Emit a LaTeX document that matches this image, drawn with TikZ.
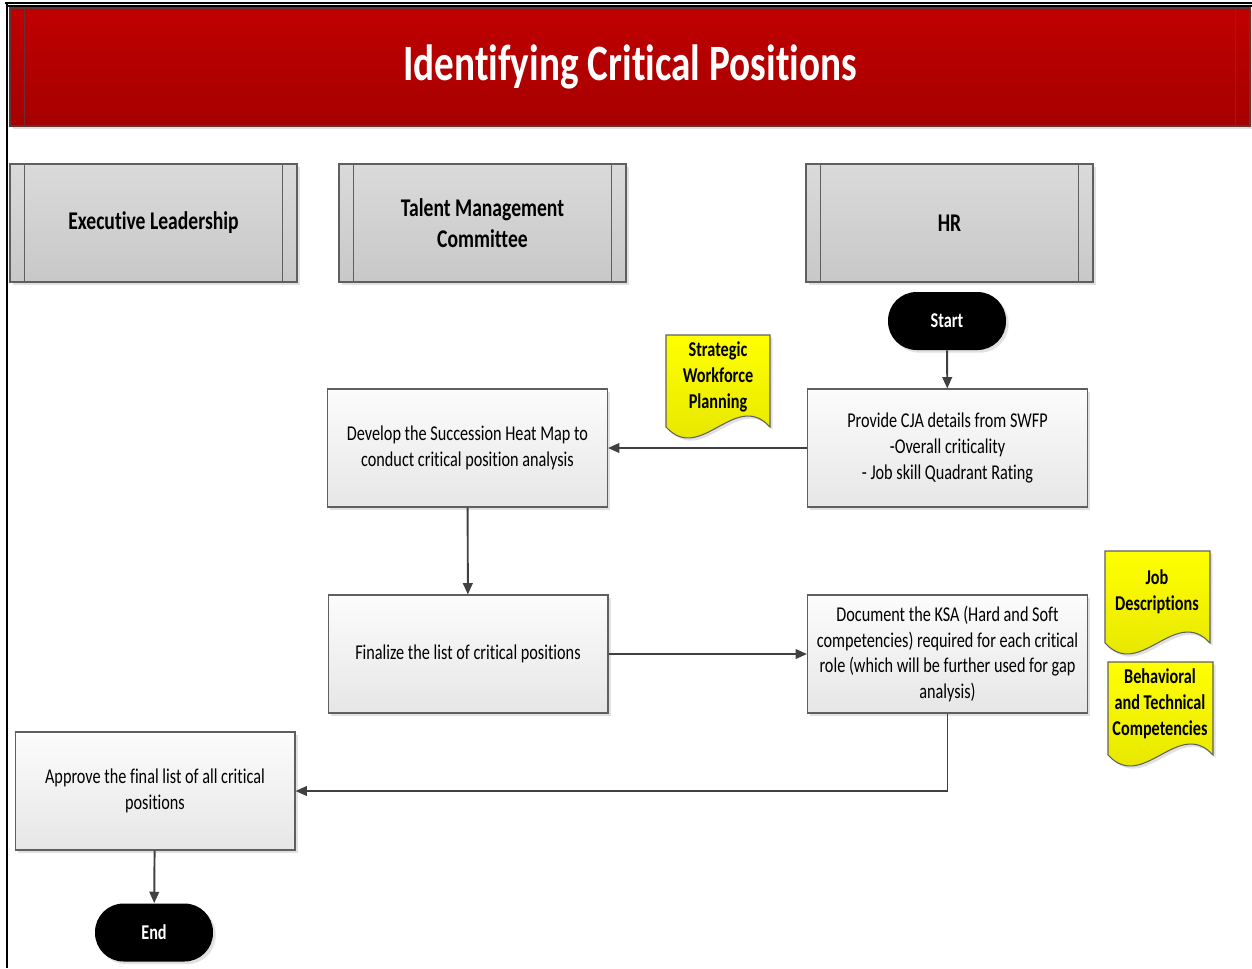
\documentclass[tikz,border=0pt]{standalone}
\usepackage{fontspec}
\setmainfont{Carlito}[FakeStretch=0.77,Ligatures={NoCommon}]
\usetikzlibrary{arrows.meta,shadows,calc}
\definecolor{titletop}{RGB}{192,0,0}
\definecolor{titlebot}{RGB}{166,0,0}
\definecolor{titleedge}{RGB}{100,50,50}
\definecolor{lanetop}{RGB}{218,218,218}
\definecolor{lanebot}{RGB}{200,200,200}
\definecolor{edgegray}{RGB}{95,95,95}
\definecolor{proctop}{RGB}{252,252,252}
\definecolor{procbot}{RGB}{230,230,230}
\definecolor{doctop}{RGB}{255,255,0}
\definecolor{docbot}{RGB}{226,226,0}
\definecolor{arrgray}{RGB}{64,64,64}
\definecolor{shadowgray}{RGB}{205,205,205}
\tikzset{
  shadowed/.style={drop shadow={shadow xshift=1.5pt,shadow yshift=-1.5pt,fill=shadowgray,opacity=0.6}},
  titlebar/.style={shadowed,draw=titleedge,line width=0.8pt,top color=titletop,bottom color=titlebot,
    minimum width=24.8cm,minimum height=2.36cm,inner sep=0pt,text=white,
    font=\fontsize{29}{34}\selectfont\bfseries},
  lane/.style={shadowed,draw=edgegray,line width=0.7pt,top color=lanetop,bottom color=lanebot,
    minimum width=5.74cm,minimum height=2.36cm,inner sep=0pt,align=center,
    font=\fontsize{14.5}{18}\selectfont\bfseries},
  sep/.style={draw=edgegray,line width=0.7pt},
  proc/.style={shadowed,draw=edgegray,line width=0.6pt,top color=proctop,bottom color=procbot,
    minimum width=5.6cm,minimum height=2.36cm,inner sep=0pt,align=center,
    font=\fontsize{12}{14.7}\selectfont},
  term/.style={shadowed,fill=black,rounded corners=0.57cm,minimum width=2.36cm,minimum height=1.16cm,
    inner sep=0pt,text=white,font=\fontsize{12}{14.7}\selectfont\bfseries},
  docshape/.style={shadowed,draw=edgegray,line width=0.6pt,top color=doctop,bottom color=docbot},
  doctext/.style={align=center,inner sep=0pt,font=\fontsize{12}{14.7}\selectfont\bfseries},
  arr/.style={draw=arrgray,line width=1.1pt,-{Triangle[length=6.5pt,width=5.5pt]}},
}
\begin{document}
\begin{tikzpicture}[x=0.02cm,y=-0.02cm]
\useasboundingbox (0,0) rectangle (1252,968);
% frame
\draw[line width=1.3pt] (5,3) -- (1252,3);
\draw[line width=0.8pt] (7,6) -- (1252,6);
\draw[line width=1.3pt] (7,3) -- (7,968);
% title
\node[titlebar] (title) at (630,67) {\raisebox{-2pt}{Identifying Critical Positions}};
\draw[draw=titleedge,line width=0.8pt] ([xshift=0.3cm]title.north west) -- ([xshift=0.3cm]title.south west);
\draw[draw=titleedge,line width=0.8pt] ([xshift=-0.3cm]title.north east) -- ([xshift=-0.3cm]title.south east);
% lanes
\node[lane] (exec) at (153.5,223) {\raisebox{-1pt}{Executive Leadership}};
\node[lane] (tmc) at (482.5,223) {Talent Management\\Committee};
\node[lane] (hr) at (949.5,223) {HR};
\foreach \n in {exec,tmc,hr}{
  \draw[sep] ([xshift=0.3cm]\n.north west) -- ([xshift=0.3cm]\n.south west);
  \draw[sep] ([xshift=-0.3cm]\n.north east) -- ([xshift=-0.3cm]\n.south east);
}
% documents
\def\docpath#1#2#3#4{%
  (#1,#2) -- (#3,#2) -- (#3,#4)
  .. controls ({#1+2*(#3-#1)/3},{#4-38}) and ({#1+(#3-#1)/3},{#4+38}) .. (#1,#4) -- cycle}
\path[docshape] \docpath{666}{335}{770}{427};
\node[doctext] (swp) at (718,377) {Strategic\\Workforce\\Planning};
\path[docshape] \docpath{1105}{551}{1210}{643};
\node[doctext] (jd) at (1157,592) {Job\\Descriptions};
\path[docshape] \docpath{1108}{662}{1213}{755};
\node[doctext] (btc) at (1160,704) {Behavioral\\and Technical\\Competencies};
% flow
\node[term] (start) at (947,321) {Start};
\node[proc] (cja) at (947.5,448) {Provide CJA details from SWFP\\-Overall criticality\\- Job skill Quadrant Rating};
\node[proc] (dev) at (467.5,448) {Develop the Succession Heat Map to\\conduct critical position analysis};
\node[proc] (fin) at (468,654) {Finalize the list of critical positions};
\node[proc] (ksa) at (947.5,654) {Document the KSA (Hard and Soft\\competencies) required for each critical\\role (which will be further used for gap\\analysis)};
\node[proc] (app) at (155,791) {Approve the final list of all critical\\positions};
\node[term] (end) at (154,932.5) {End};
\draw[arr] (start) -- (cja);
\draw[arr] (cja) -- (dev);
\draw[arr] (dev) -- (fin);
\draw[arr] (fin) -- (ksa);
\draw[arr] (ksa.south) |- (app.east);
\draw[arr] (app) -- (end);
\end{tikzpicture}
\end{document}
